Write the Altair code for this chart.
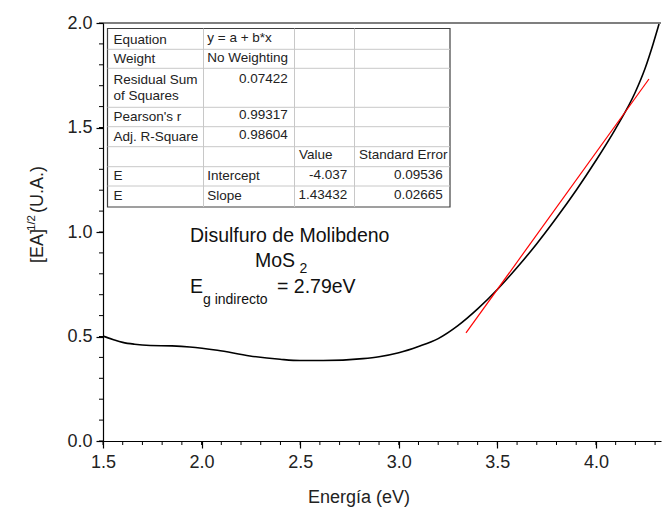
import altair as alt
import pandas as pd

# ---------------- data ----------------
energy = [1.50, 1.55, 1.60, 1.66, 1.74, 1.85, 1.94, 2.08, 2.245, 2.398, 2.499, 2.616,
          2.818, 2.90, 3.00, 3.10, 3.20, 3.30, 3.40, 3.50, 3.60, 3.70, 3.80, 3.90, 4.00,
          4.10, 4.20, 4.25, 4.29, 4.32]
ea_sqrt = [0.502, 0.486, 0.472, 0.463, 0.457, 0.455, 0.450, 0.434, 0.407, 0.391, 0.385,
           0.385, 0.394, 0.403, 0.422, 0.452, 0.490, 0.552, 0.632, 0.725, 0.830, 0.944,
           1.068, 1.200, 1.342, 1.495, 1.670, 1.785, 1.900, 1.995]
fit_x = [3.341, 4.269]
fit_y = [0.517, 1.732]

x_major = [1.5, 2.0, 2.5, 3.0, 3.5, 4.0]
y_major = [0.0, 0.5, 1.0, 1.5, 2.0]
x_minor = [round(1.5 + 0.1 * i, 1) for i in range(29)]
y_minor = [round(0.1 * i, 1) for i in range(21)]

tab_col1 = ["Equation", "Weight", "Residual Sum", "of Squares", "Pearson's r",
            "Adj. R-Square", "E", "E"]
tab_col2_left = ["y = a + b*x", "No Weighting", "Intercept", "Slope"]
tab_col2_right = ["0.07422", "0.99317", "0.98604"]
tab_header = ["Value", "Standard Error"]
tab_values = ["-4.037", "1.43432"]
tab_errors = ["0.09536", "0.02665"]

W, H = 558, 418
FONT = "Liberation Sans"
TXT = "#222222"

# ---------------- main curves ----------------
curve_df = pd.DataFrame({"x": energy, "y": ea_sqrt})
fit_df = pd.DataFrame({"x": fit_x, "y": fit_y})

xscale = alt.Scale(domain=[1.5, 4.33], nice=False, zero=False)
yscale = alt.Scale(domain=[0, 2.0], nice=False, zero=True)

xaxis = alt.Axis(values=x_major, format=".1f", title=None, grid=False,
                 domainColor="black", domainWidth=1.2, tickColor="black", tickWidth=1.2,
                 tickSize=7, labelColor=TXT, labelFont=FONT, labelFontSize=18,
                 labelOverlap=False, labelFlush=False, labelPadding=5)
yaxis = alt.Axis(values=y_major, format=".1f", title=None, grid=False,
                 domainColor="black", domainWidth=1.2, tickColor="black", tickWidth=1.2,
                 tickSize=7, labelColor=TXT, labelFont=FONT, labelFontSize=18,
                 labelOverlap=False, labelPadding=4)

curve = alt.Chart(curve_df).mark_line(color="black", strokeWidth=1.6,
                                       interpolate="monotone", clip=True).encode(
    x=alt.X("x:Q", scale=xscale, axis=xaxis),
    y=alt.Y("y:Q", scale=yscale, axis=yaxis),
)
fit = alt.Chart(fit_df).mark_line(color="#ff0000", strokeWidth=1.2).encode(
    x=alt.X("x:Q", scale=xscale, axis=xaxis),
    y=alt.Y("y:Q", scale=yscale, axis=yaxis),
)

xminor = alt.Chart(pd.DataFrame({"x": x_minor})).mark_rule(color="black", strokeWidth=1).encode(
    x=alt.X("x:Q", scale=xscale, axis=xaxis), y=alt.value(H), y2=alt.value(H + 4))
yminor = alt.Chart(pd.DataFrame({"y": y_minor})).mark_rule(color="black", strokeWidth=1).encode(
    y=alt.Y("y:Q", scale=yscale, axis=yaxis), x=alt.value(-4), x2=alt.value(0))

top_line = alt.Chart(pd.DataFrame({"a": [0]})).mark_rule(color="black", strokeWidth=1.2).encode(
    x=alt.value(0), x2=alt.value(W), y=alt.value(0))

# ---------------- inset table ----------------
BL, BR, BT, BB = 4.5, 347, 5.5, 184
col_div = [100.5, 191.5, 251.5]
row_div = [26.3, 45.3, 84.3, 103.7, 123.7, 143.7, 163.0]

box = alt.Chart(pd.DataFrame({"a": [0]})).mark_rect(
    fill="white", stroke="#404040", strokeWidth=1.2).encode(
    x=alt.value(BL), x2=alt.value(BR), y=alt.value(BT), y2=alt.value(BB))

hlines = pd.DataFrame({"x1": [BL] * len(row_div), "x2": [BR] * len(row_div),
                       "y1": row_div, "y2": row_div})
vlines = pd.DataFrame({"x1": col_div, "x2": col_div,
                       "y1": [BT] * len(col_div), "y2": [BB] * len(col_div)})
grid_df = pd.concat([hlines, vlines], ignore_index=True)
grid = alt.Chart(grid_df).mark_rule(color="#c8c8c8", strokeWidth=1).encode(
    x=alt.X("x1:Q", scale=None, axis=None), x2="x2:Q",
    y=alt.Y("y1:Q", scale=None, axis=None), y2="y2:Q")

c1_y = [20.5, 39.7, 61.3, 77.0, 97.7, 117.7, 157.0, 177.0]
left_rows = [(10.5, y, t) for t, y in zip(tab_col1, c1_y)]
left_rows += [(104.3, y, t) for t, y in zip(tab_col2_left, [18.5, 38.7, 157.0, 177.0])]
left_rows += [(196.0, 136.3, tab_header[0]), (256.0, 136.3, tab_header[1])]
right_rows = [(184.7, y, t) for t, y in zip(tab_col2_right, [60.3, 96.3, 116.3])]
right_rows += [(244.3, y, t) for t, y in zip(tab_values, [155.7, 175.7])]
right_rows += [(339.7, y, t) for t, y in zip(tab_errors, [155.7, 175.7])]


def text_layer(rows, align, size=13.5, color=TXT, angle=0):
    df = pd.DataFrame(rows, columns=["px", "py", "t"])
    return alt.Chart(df).mark_text(align=align, baseline="alphabetic", font=FONT,
                                   fontSize=size, color=color, angle=angle).encode(
        x=alt.X("px:Q", scale=None, axis=None),
        y=alt.Y("py:Q", scale=None, axis=None),
        text="t:N")


tab_left = text_layer(left_rows, "left")
tab_right = text_layer(right_rows, "right")

# ---------------- annotation ----------------
ann_big = text_layer([(87, 219, "Disulfuro de Molibdeno"), (152, 244, "MoS"),
                      (87, 270, "E"), (174, 270, "= 2.79eV")], "left", size=19.5,
                     color="#111111")
ann_small = text_layer([(196.5, 250, "2"), (100, 281, "g indirecto")], "left", size=14,
                       color="#111111")

# ---------------- axis titles ----------------
xtitle = text_layer([(256, 480, "Energía (eV)")], "center", size=18)
ytitle_big = text_layer([(-60, 240, "[EA]"), (-60, 190, "(U.A.)")], "left", size=18, angle=270)
ytitle_sup = text_layer([(-68, 208, "1/2")], "left", size=11.5, angle=270)

chart = alt.layer(
    curve, fit, xminor, yminor, top_line, box, grid, tab_left, tab_right,
    ann_big, ann_small, xtitle, ytitle_big, ytitle_sup
).properties(
    width=W, height=H,
    autosize=alt.AutoSizeParams(type="none"),
    padding={"left": 103, "top": 23, "right": 1, "bottom": 71},
    background="white",
).configure_view(stroke=None)

chart.save("out.html", embed_options={"renderer": "svg", "actions": False})
